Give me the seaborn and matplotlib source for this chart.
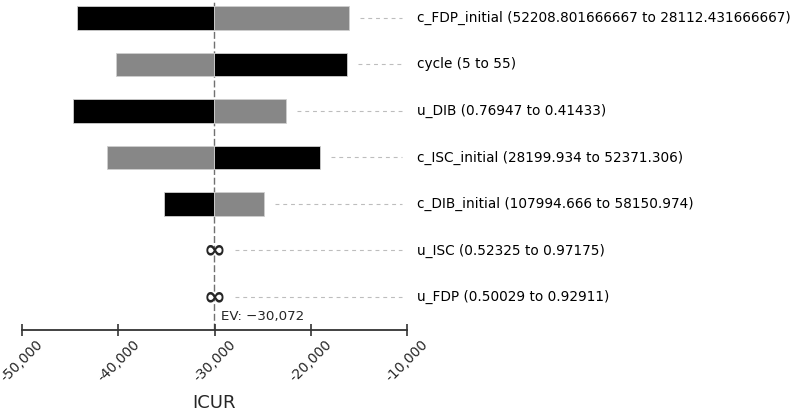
import numpy as np
import seaborn as sns
import matplotlib.pyplot as plt

# tornado data (ICUR at each end of the parameter range)
params = ["c_FDP_initial", "cycle", "u_DIB", "c_ISC_initial", "c_DIB_initial", "u_ISC", "u_FDP"]
ranges = ["52208.801666667 to 28112.431666667", "5 to 55", "0.76947 to 0.41433",
          "28199.934 to 52371.306", "107994.666 to 58150.974",
          "0.52325 to 0.97175", "0.50029 to 0.92911"]
icur_first = [-44283, -16174, -44761, -18981, -35301, np.nan, np.nan]   # black bars
icur_second = [-15967, -40229, -22588, -41195, -24844, np.nan, np.nan]  # gray bars
infinite = [False, False, False, False, False, True, True]
ev = -30072
xticks = [-50000, -40000, -30000, -20000, -10000]

sns.set_style("white")
plt.rcParams['font.family'] = ['DejaVu Sans']

fig = plt.figure(figsize=(7.97, 4.11), dpi=100)
ax = fig.add_axes([22.3 / 797, 81 / 411, 384.4 / 797, 330 / 411])

# bars start at the expected value, so draw the offset from EV
for vals, col in [(icur_first, "black"), (icur_second, "#878787")]:
    sns.barplot(x=np.array(vals) - ev, y=params, order=params, orient="h", left=ev,
                color=col, width=0.5, errorbar=None, edgecolor="#cfcfcf",
                linewidth=0.6, saturation=1, ax=ax)

ax.set_xlim(-50000, -10000)
ax.set_ylim(6.71, -0.387)
ax.set_yticks([])
ax.set_ylabel("")

# EV reference line
ax.axvline(ev, color="#707070", lw=1, ls=(0, (5, 2)), zorder=0)

# leader lines, labels and infinity markers
for i, (p, r) in enumerate(zip(params, ranges)):
    if infinite[i]:
        start = ev + 2200
        ax.text(ev + 100, i, "\u221e", ha="center", va="center",
                fontsize=19, fontweight="bold")
    else:
        start = max(icur_first[i], icur_second[i]) + 1150
    ax.plot([start, -10520], [i, i], color="#bdbdbd", lw=0.8, ls=(0, (3.5, 3.5)))
    ax.text(-8930, i, f"{p} ({r})", ha="left", va="center", fontsize=9.8,
            color="black", clip_on=False)

ax.annotate(f"EV: \u2212{abs(ev):,}", xy=(ev, 0), xycoords=("data", "axes fraction"),
            xytext=(5, 7), textcoords="offset points", va="baseline", fontsize=9.6)

# axis styling
sns.despine(ax=ax, left=True)
ax.spines["bottom"].set_linewidth(1.3)
ax.spines["bottom"].set_color("#333333")
ax.set_xticks(xticks)
ax.set_xticklabels([f"{t:,}" for t in xticks], rotation=45)
ax.tick_params(axis="x", direction="inout", length=8, width=1.2, color="#333333",
               labelsize=10, pad=1, bottom=True)
ax.set_xlabel("ICUR", fontsize=13, labelpad=7)

fig.savefig("out.png", dpi=100)
